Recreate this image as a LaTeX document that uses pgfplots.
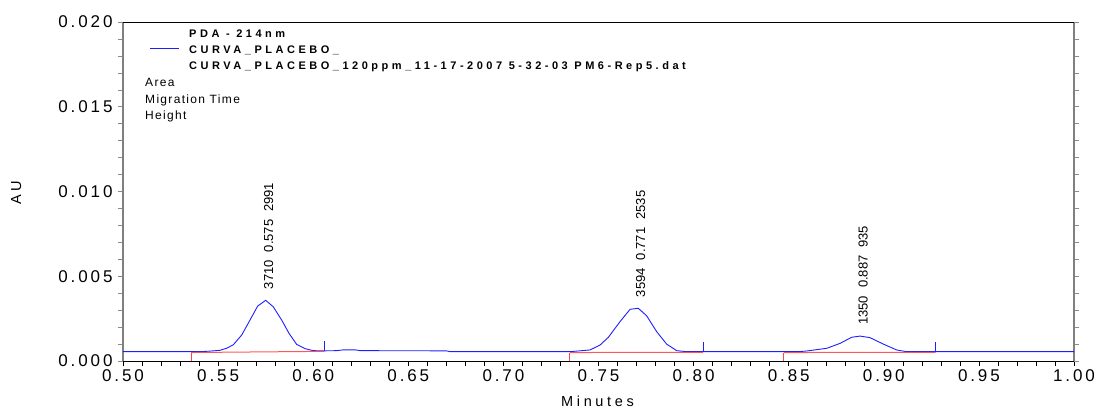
\documentclass[border=0pt]{standalone}
\usepackage{fontspec}
\setmainfont{Liberation Sans}
\newfontfamily\tickfont[LetterSpace=17]{Liberation Sans}
\newfontfamily\legfont[LetterSpace=32]{Liberation Sans}
\newfontfamily\txtfont[LetterSpace=11]{Liberation Sans}
\newfontfamily\labfont[LetterSpace=25]{Liberation Sans}
\usepackage{pgfplots}
\pgfplotsset{compat=1.18}
\definecolor{curve}{RGB}{30,30,255}
\definecolor{base}{RGB}{255,70,70}
\begin{document}
\begin{tikzpicture}
\useasboundingbox (0,0) rectangle (1096pt,408pt);
\begin{axis}[
  at={(123pt,47pt)}, anchor=south west,
  scale only axis, width=951pt, height=339pt,
  xmin=0.5, xmax=1.0, ymin=0, ymax=0.020,
  xtick={0.50,0.55,...,1.001}, ytick={0,0.005,0.010,0.015,0.020},
  minor x tick num=4, minor y tick num=4,
  xtick pos=bottom, ytick pos=both,
  tick align=outside,
  major tick length=5pt, minor tick length=5pt,
  xtick style={black, line width=0.6pt},
  ytick style={black!45, line width=0.6pt},
  axis line style={draw=none},
  scaled y ticks=false, scaled x ticks=false,
  /pgf/number format/assume math mode=true,
  xticklabel style={font=\fontsize{17}{20}\tickfont, /pgf/number format/.cd, fixed, fixed zerofill, precision=2},
  yticklabel style={font=\fontsize{17}{20}\tickfont, xshift=-2pt, /pgf/number format/.cd, fixed, fixed zerofill, precision=3},
  clip=false,
]
% frame
\draw[black!50, line width=1.4pt] (rel axis cs:0,0) -- (rel axis cs:0,1);
\draw[black!50, line width=1.4pt] (rel axis cs:1,0) -- (rel axis cs:1,1);
\draw[black, line width=0.8pt] (rel axis cs:0,0) -- (rel axis cs:1,0);
\draw[black, line width=0.8pt] (rel axis cs:0,1) -- (rel axis cs:1,1);
% trace
\addplot[curve, line width=0.9pt, mark=none] coordinates {
(0.500,0.00055) (0.540,0.00055) (0.544,0.00057) (0.551,0.00063) (0.5545,0.00075)
(0.558,0.00096) (0.5624,0.00153) (0.5668,0.00242) (0.5708,0.00324) (0.575,0.00358)
(0.579,0.00320) (0.5834,0.00242) (0.5873,0.00163) (0.5913,0.00098) (0.5957,0.00073)
(0.600,0.00061) (0.6057,0.00060) (0.6123,0.00061) (0.616,0.00066) (0.622,0.00066)
(0.6246,0.00061) (0.670,0.00060) (0.672,0.00055) (0.735,0.00055) (0.7455,0.00065)
(0.7508,0.00094) (0.7552,0.00140) (0.7613,0.00232) (0.7666,0.00305) (0.7709,0.00311)
(0.7753,0.00267) (0.7806,0.00173) (0.7858,0.00100) (0.7911,0.00061) (0.7964,0.00055)
(0.855,0.00055) (0.8595,0.00059) (0.870,0.00075) (0.877,0.00104) (0.8831,0.00140)
(0.8875,0.00147) (0.8927,0.00138) (0.8997,0.00100) (0.9068,0.00065) (0.912,0.00055)
(1.000,0.00055)};
% baselines
\addplot[base, opacity=0.9, line width=1pt, mark=none] coordinates {(0.5358,0.00050) (0.6057,0.00057)};
\addplot[base, line width=1pt, mark=none] coordinates {(0.5358,0) (0.5358,0.00050)};
\addplot[curve, line width=0.9pt, mark=none] coordinates {(0.6057,0.00060) (0.6057,0.00118)};
\addplot[base, opacity=0.9, line width=1pt, mark=none] coordinates {(0.735,0.00050) (0.805,0.00051)};
\addplot[base, line width=1pt, mark=none] coordinates {(0.735,0) (0.735,0.00050)};
\addplot[curve, line width=0.9pt, mark=none] coordinates {(0.805,0.00055) (0.805,0.00110)};
\addplot[base, opacity=0.9, line width=1pt, mark=none] coordinates {(0.8475,0.00050) (0.9273,0.00051)};
\addplot[base, line width=1pt, mark=none] coordinates {(0.8475,0) (0.8475,0.00050)};
\addplot[curve, line width=0.9pt, mark=none] coordinates {(0.9273,0.00055) (0.9273,0.00110)};
% peak annotations
\node[rotate=90, anchor=west, inner sep=0pt, font=\fontsize{13}{15}\selectfont] at ([yshift=11pt]axis cs:0.5766,0.00358) {3710\hspace{8pt}0.575\hspace{8pt}2991};
\node[rotate=90, anchor=west, inner sep=0pt, font=\fontsize{13}{15}\selectfont] at ([yshift=11pt]axis cs:0.7722,0.00311) {3594\hspace{8pt}0.771\hspace{8pt}2535};
\node[rotate=90, anchor=west, inner sep=0pt, font=\fontsize{13}{15}\selectfont] at ([yshift=11pt]axis cs:0.8892,0.00147) {1350\hspace{8pt}0.887\hspace{8pt}935};
\end{axis}
% legend
\draw[curve, line width=0.9pt] (150pt,{408pt-48.3pt}) -- (179pt,{408pt-48.3pt});
\node[anchor=base west, inner sep=0pt, font=\fontsize{11}{13}\legfont\bfseries] at (189pt,{408pt-37.5pt}) {PDA - 214nm};
\node[anchor=base west, inner sep=0pt, font=\fontsize{11}{13}\legfont\bfseries] at (189pt,{408pt-54pt}) {CURVA\_PLACEBO\_};
\node[anchor=base west, inner sep=0pt, font=\fontsize{11}{13}\legfont\bfseries] at (189pt,{408pt-70pt}) {CURVA\_PLACEBO\_120ppm\_11-17-2007 5-32-03 PM6-Rep5.dat};
\node[anchor=base west, inner sep=0pt, font=\fontsize{12}{14}\txtfont] at (145pt,{408pt-86.5pt}) {Area};
\node[anchor=base west, inner sep=0pt, font=\fontsize{12}{14}\txtfont] at (145pt,{408pt-103pt}) {Migration Time};
\node[anchor=base west, inner sep=0pt, font=\fontsize{12}{14}\txtfont] at (145pt,{408pt-119pt}) {Height};
% axis labels
\node[anchor=base, inner sep=0pt, font=\fontsize{14.5}{16}\labfont] at (597.5pt,1.5pt) {Minutes};
\node[rotate=90, anchor=center, inner sep=0pt, font=\fontsize{14.5}{16}\labfont] at (16.3pt,215.3pt) {AU};
\end{tikzpicture}
\end{document}
